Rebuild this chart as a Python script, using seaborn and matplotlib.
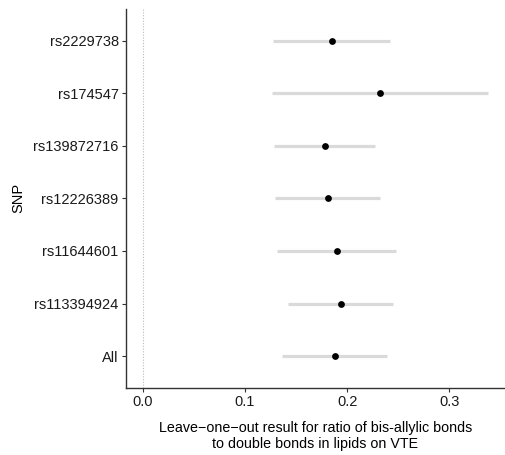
import matplotlib
matplotlib.use("Agg")
import matplotlib.pyplot as plt
import seaborn as sns
import pandas as pd

snps = ["All", "rs113394924", "rs11644601", "rs12226389", "rs139872716", "rs174547", "rs2229738"]
estimate = [0.1879, 0.1937, 0.1898, 0.1810, 0.1781, 0.2322, 0.1849]
ci_low = [0.1366, 0.1425, 0.1317, 0.1297, 0.1288, 0.1268, 0.1278]
ci_high = [0.2387, 0.2452, 0.2478, 0.2325, 0.2273, 0.3382, 0.2417]
xticks = [0.0, 0.1, 0.2, 0.3]

df = pd.DataFrame({"SNP": snps, "b": estimate, "lo": ci_low, "hi": ci_high})

sns.set_theme(style="white")
plt.rcParams["font.family"] = ["Liberation Sans", "DejaVu Sans"]

fig = plt.figure(figsize=(5.06, 4.55), dpi=100)
ax = fig.add_axes([0.2484, 0.1479, 0.7496, 0.8323])

ax.axvline(0, color="#bbbbbb", linestyle=(0, (1, 1.5)), linewidth=0.8, zorder=1)
ax.hlines(df["SNP"], df["lo"], df["hi"], color="#dadada", linewidth=2.3, zorder=2)
sns.scatterplot(data=df, x="b", y="SNP", color="black", s=24, edgecolor="black",
                linewidth=0, ax=ax, zorder=3)

ax.set_xlim(-0.0166, 0.3545)
ax.set_ylim(-0.6, 6.6)
ax.set_xticks(xticks)
ax.set_xticklabels([f"{t:.1f}" for t in xticks])
ax.set_xlabel("Leave\u2212one\u2212out result for ratio of bis-allylic bonds\nto double bonds in lipids on VTE",
              fontsize=10.3, color="black", labelpad=9, linespacing=1.2)
ax.set_ylabel("SNP", fontsize=10.5, color="black", labelpad=6)
ax.tick_params(axis="both", which="both", length=3, width=0.8, color="#333333",
               labelsize=10.5, labelcolor="#1a1a1a", pad=2, left=True, bottom=True)
for side in ["top", "right"]:
    ax.spines[side].set_visible(False)
for side in ["left", "bottom"]:
    ax.spines[side].set_color("#333333")
    ax.spines[side].set_linewidth(1.0)

fig.savefig("out.png", dpi=100)
